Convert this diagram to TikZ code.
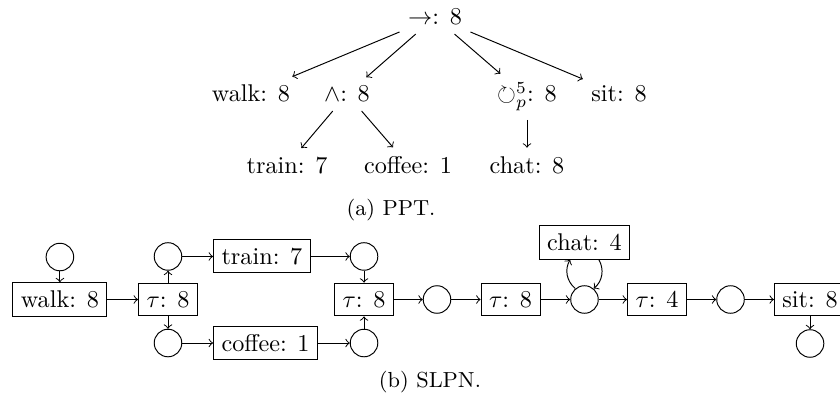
\documentclass[tikz,border=0pt]{standalone}
\usepackage{amsmath}
\usepackage{amssymb}
\begin{document}
\begin{tikzpicture}[
		place/.style={draw, circle, minimum size=4mm, inner sep=0pt},
		trans/.style={draw, rectangle},
		lbl/.style={anchor=base},
		capt/.style={anchor=base, font=\small}
	]
	\useasboundingbox (0,0) rectangle (12.2,5.824);

	% process tree
	\node[lbl] (root) at (6.318,5.461) {$\rightarrow$: 8};
	\node[lbl] (walk) at (3.645,4.343) {walk: 8};
	\node[lbl] (and) at (5.040,4.343) {$\wedge$: 8};
	\node[lbl] (loop) at (7.654,4.343) {$\circlearrowright^5_p$: 8};
	\node[lbl] (sit) at (8.990,4.343) {sit: 8};
	\node[lbl] (train) at (4.168,3.311) {train: 7};
	\node[lbl] (coffee) at (5.926,3.311) {coffee: 1};
	\node[lbl] (chat) at (7.654,3.311) {chat: 8};

	\draw[->] (root) -- (walk);
	\draw[->] (root) -- (and);
	\draw[->] (root) -- (loop);
	\draw[->] (root) -- (sit);
	\draw[->] (and) -- (train);
	\draw[->] (and) -- (coffee);
	\draw[->] (loop) -- (chat);

	\node[capt] (capa) at (5.679,2.687) {(a) PPT.};

	% petri net
	\node[place] (p0) at (0.87,2.091) {};
	\node[trans] (walk2) at (0.87,1.474) {walk: 8};
	\node[trans] (tau1) at (2.44,1.474) {$\tau$: 8};
	\node[place] (pu1) at (2.44,2.099) {};
	\node[place] (pd1) at (2.44,0.842) {};
	\node[trans, anchor=west] (train2) at (3.094,2.099) {train: 7};
	\node[trans, anchor=west] (coffee2) at (3.094,0.842) {coffee: 1};
	\node[place] (pu2) at (5.287,2.099) {};
	\node[place] (pd2) at (5.287,0.842) {};
	\node[trans] (tau2) at (5.287,1.474) {$\tau$: 8};
	\node[place] (p3) at (6.347,1.474) {};
	\node[trans] (tau3) at (7.415,1.474) {$\tau$: 8};
	\node[place] (p4) at (8.489,1.474) {};
	\node[trans] (chat2) at (8.489,2.302) {chat: 4};
	\node[trans] (tau4) at (9.542,1.474) {$\tau$: 4};
	\node[place] (p5) at (10.610,1.474) {};
	\node[trans] (sit2) at (11.765,1.474) {sit: 8};
	\node[place] (p6) at (11.765,0.835) {};

	\draw[->] (p0) -- (walk2);
	\draw[->] (walk2) -- (tau1);
	\draw[->] (tau1) -- (pu1);
	\draw[->] (tau1) -- (pd1);
	\draw[->] (pu1) -- (train2);
	\draw[->] (pd1) -- (coffee2);
	\draw[->] (train2) -- (pu2);
	\draw[->] (coffee2) -- (pd2);
	\draw[->] (pu2) -- (tau2);
	\draw[->] (pd2) -- (tau2);
	\draw[->] (tau2) -- (p3);
	\draw[->] (p3) -- (tau3);
	\draw[->] (tau3) -- (p4);
	\draw[->] (p4) to[bend left=40] (chat2);
	\draw[->] (chat2) to[bend left=40] (p4);
	\draw[->] (p4) -- (tau4);
	\draw[->] (tau4) -- (p5);
	\draw[->] (p5) -- (sit2);
	\draw[->] (sit2) -- (p6);

	\node[capt] (capb) at (6.245,0.189) {(b) SLPN.};

\end{tikzpicture}
\end{document}
